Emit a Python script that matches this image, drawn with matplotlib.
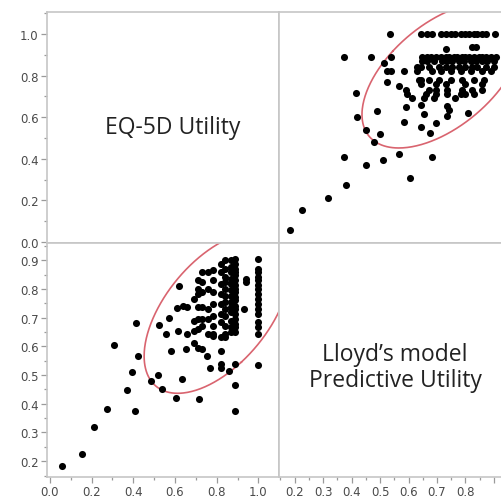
import numpy as np
import matplotlib.pyplot as plt
from matplotlib.ticker import MultipleLocator

# EQ-5D utility (x of lower-left panel) and Lloyd's model predictive utility
eq_utility = [
    0.056, 0.155, 0.213, 0.275, 0.306, 0.368, 0.395, 0.408, 0.411, 0.421,
    0.483, 0.518, 0.539, 0.525, 0.555, 0.571, 0.579, 0.603, 0.632, 0.619,
    0.608, 0.616, 0.637, 0.656, 0.651, 0.659,
    1.0, 1.0, 1.0, 1.0, 1.0, 1.0, 1.0, 1.0, 1.0, 1.0, 1.0, 1.0, 1.0, 1.0, 1.0, 1.0,
    0.94, 0.94, 0.93,
    0.89, 0.89, 0.89, 0.89, 0.89, 0.89, 0.89, 0.89, 0.89, 0.89, 0.89,
    0.89, 0.89, 0.89, 0.89, 0.89, 0.89, 0.89, 0.89, 0.89, 0.89,
    0.87, 0.87, 0.87, 0.87, 0.87, 0.87, 0.87, 0.87, 0.87, 0.87, 0.87, 0.87, 0.87,
    0.86,
    0.84, 0.84, 0.84, 0.84, 0.84, 0.84, 0.84, 0.84, 0.84, 0.84, 0.84, 0.84,
    0.82, 0.82, 0.82, 0.82, 0.82, 0.82, 0.82, 0.82, 0.82, 0.82, 0.82,
    0.78, 0.78, 0.78, 0.78, 0.78, 0.78, 0.78, 0.78, 0.768,
    0.76, 0.76, 0.76, 0.76, 0.76, 0.752,
    0.73, 0.73, 0.73, 0.73, 0.73, 0.73, 0.73,
    0.71, 0.71, 0.71, 0.71, 0.71, 0.71, 0.71, 0.717,
    0.69, 0.69, 0.69, 0.69,
]
lloyd_utility = [
    0.183, 0.226, 0.318, 0.382, 0.606, 0.449, 0.512, 0.374, 0.682, 0.567,
    0.480, 0.501, 0.451, 0.674, 0.643, 0.698, 0.583, 0.419, 0.488, 0.809,
    0.734, 0.655, 0.742, 0.736, 0.590, 0.643,
    0.904, 0.871, 0.859, 0.842, 0.830, 0.812, 0.800, 0.783, 0.765, 0.748, 0.730, 0.713, 0.684, 0.666, 0.643, 0.534,
    0.836, 0.824, 0.730,
    0.906, 0.888, 0.871, 0.859, 0.847, 0.830, 0.812, 0.800, 0.789, 0.771, 0.760,
    0.742, 0.730, 0.713, 0.695, 0.678, 0.666, 0.649, 0.537, 0.467, 0.374,
    0.900, 0.877, 0.859, 0.836, 0.818, 0.795, 0.777, 0.754, 0.736, 0.719, 0.689, 0.666, 0.649,
    0.515,
    0.900, 0.871, 0.842, 0.824, 0.800, 0.777, 0.754, 0.730, 0.707, 0.672, 0.643, 0.631,
    0.888, 0.859, 0.818, 0.783, 0.748, 0.713, 0.684, 0.631, 0.584, 0.537, 0.526,
    0.865, 0.830, 0.789, 0.748, 0.707, 0.672, 0.643, 0.637, 0.526,
    0.859, 0.800, 0.730, 0.695, 0.643, 0.567,
    0.859, 0.824, 0.789, 0.736, 0.695, 0.672, 0.590,
    0.830, 0.800, 0.783, 0.736, 0.695, 0.660, 0.596, 0.417,
    0.765, 0.689, 0.654, 0.613,
]

# bivariate-normal density ellipse (95%), summary
ellipse_mean = [0.802, 0.718]   # EQ-5D, Lloyd
ellipse_sd = [0.143, 0.115]
ellipse_corr = 0.54
ellipse_level_chi2 = 5.991

eq_ticks = [0.0, 0.2, 0.4, 0.6, 0.8, 1.0]
lloyd_ticks = [0.2, 0.3, 0.4, 0.5, 0.6, 0.7, 0.8, 0.9]
diag_labels = ["EQ-5D Utility", "Lloyd\u2019s model\nPredictive Utility"]

frame_col = "#c6c6c6"
tick_col = "#9a9a9a"
label_col = "#4a4a4a"
ell_col = "#d9646f"

eq = np.array(eq_utility)
ll = np.array(lloyd_utility)

mean = np.array(ellipse_mean)
sx, sy = ellipse_sd
cov = np.array([[sx**2, ellipse_corr*sx*sy], [ellipse_corr*sx*sy, sy**2]])
vals, vecs = np.linalg.eigh(cov)
t = np.linspace(0, 2 * np.pi, 400)
circle = np.vstack([np.cos(t), np.sin(t)])
ell = vecs @ (np.sqrt(vals * ellipse_level_chi2)[:, None] * circle) + mean[:, None]

fig = plt.figure(figsize=(5.01, 5.02), dpi=100)
W, H = 501, 502
x0, xm, x1 = 47, 279, 511
y0, ym, y1 = 13, 244, 478

def add_ax(l, r_, t_, b_):
    return fig.add_axes([l / W, 1 - b_ / H, (r_ - l) / W, (b_ - t_) / H])

ax_tl = add_ax(x0, xm, y0, ym)
ax_tr = add_ax(xm, x1, y0, ym)
ax_bl = add_ax(x0, xm, ym, y1)
ax_br = add_ax(xm, x1, ym, y1)

eq_xlim = (-0.014, 1.099)
eq_ylim = (-0.005, 1.106)
ll_lim = (0.145, 0.96)

for ax in (ax_tl, ax_tr, ax_bl, ax_br):
    for s in ax.spines.values():
        s.set_color(frame_col)
        s.set_linewidth(1.2)
    ax.tick_params(which="both", direction="out", color=tick_col,
                   labelcolor=label_col, labelsize=8.5, width=0.9)
    ax.tick_params(which="major", length=4, pad=2)
    ax.tick_params(which="minor", length=2.5)
    ax.set_xticks([])
    ax.set_yticks([])

ax_tl.set_xlim(eq_xlim)
ax_tl.set_ylim(eq_ylim)
ax_tl.set_yticks(eq_ticks)
ax_tl.yaxis.set_minor_locator(MultipleLocator(0.1))
ax_tl.set_yticklabels([f"{v:.1f}" for v in eq_ticks])
ax_tl.text(0.54, 0.5, diag_labels[0], transform=ax_tl.transAxes,
           ha="center", va="center", fontsize=16.5, color="#222222",
           family="Open Sans")

ax_br.set_xlim(ll_lim)
ax_br.set_ylim(ll_lim)
ax_br.set_xticks(lloyd_ticks)
ax_br.xaxis.set_minor_locator(MultipleLocator(0.05))
# the 0.9 label falls off the cropped edge in the original
ax_br.set_xticklabels([f"{v:.1f}" if v < 0.85 else "" for v in lloyd_ticks])
ax_br.text(0.5, 0.47, diag_labels[1], transform=ax_br.transAxes,
           ha="center", va="center", fontsize=16.5, color="#222222",
           family="Open Sans", linespacing=1.15)

ax_bl.scatter(eq, ll, s=26, color="black", linewidths=0, zorder=3)
ax_bl.plot(ell[0], ell[1], color=ell_col, lw=1.2, zorder=2)
ax_bl.set_xlim(eq_xlim)
ax_bl.set_ylim(ll_lim)
ax_bl.set_xticks(eq_ticks)
ax_bl.xaxis.set_minor_locator(MultipleLocator(0.1))
ax_bl.set_xticklabels([f"{v:.1f}" for v in eq_ticks])
ax_bl.set_yticks(lloyd_ticks)
ax_bl.yaxis.set_minor_locator(MultipleLocator(0.05))
ax_bl.set_yticklabels([f"{v:.1f}" for v in lloyd_ticks])

ax_tr.scatter(ll, eq, s=26, color="black", linewidths=0, zorder=3)
ax_tr.plot(ell[1], ell[0], color=ell_col, lw=1.2, zorder=2)
ax_tr.set_xlim(ll_lim)
ax_tr.set_ylim(eq_ylim)
ax_tr.set_xticks([])
ax_tr.set_yticks([])

fig.savefig("out.png", dpi=100)
